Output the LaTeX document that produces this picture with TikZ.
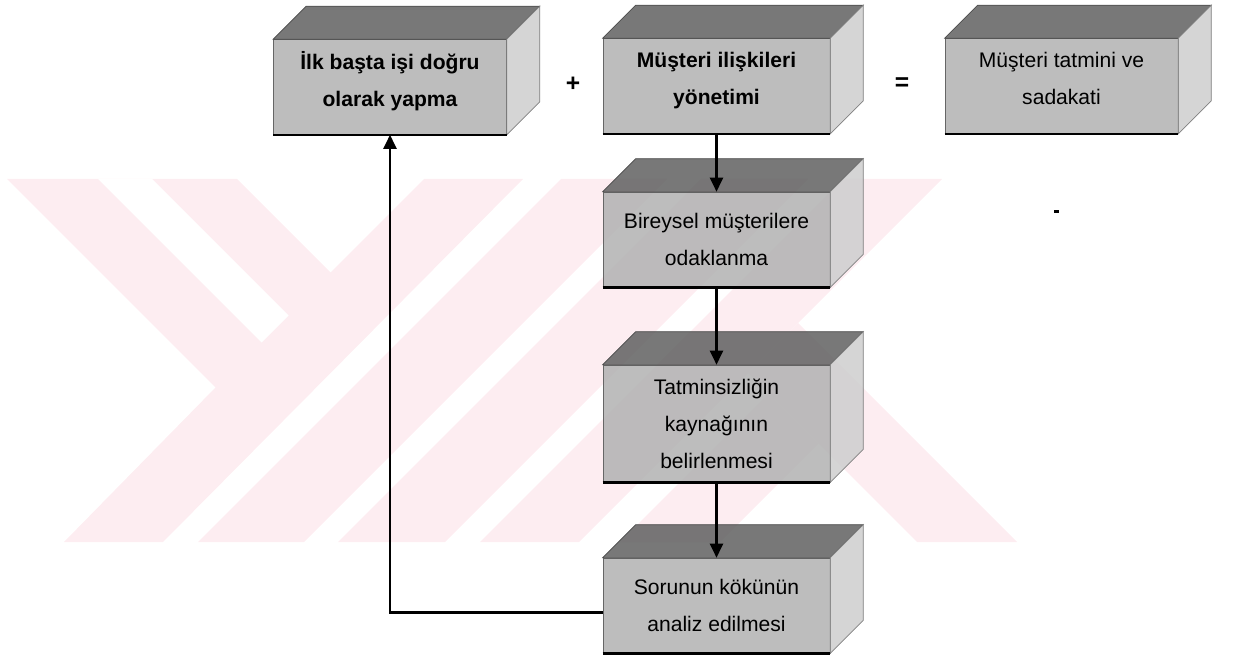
\documentclass[tikz,border=0pt]{standalone}
\usepackage{fontspec}
\setmainfont{Liberation Sans}
\usetikzlibrary{arrows.meta}

\definecolor{yokpink}{RGB}{253,237,241}
\definecolor{frontgray}{RGB}{180,180,180}
\definecolor{topgray}{RGB}{105,105,105}
\definecolor{sidegray}{RGB}{208,208,208}

\begin{document}
\begin{tikzpicture}[
    x = 0.02cm,
    y = -0.02cm,
    >={Triangle[length=8pt, width=7.5pt]},
    face/.style = {rectangle, draw=black!60, fill=frontgray, fill opacity=0.88,
              text opacity=1, minimum width=4.54cm, minimum height=1.9cm,
              inner sep=0pt, align=center, font=\fontsize{12}{21}\selectfont},
    strong/.style = {font=\fontsize{12}{21}\selectfont\bfseries},
    raised/.style = {text depth=0.32cm},
    tall/.style = {minimum height=2.34cm},
    wide/.style = {minimum width=4.66cm},
    flow/.style = {->, line width=1.25pt},
    ]

\useasboundingbox (0,0) rectangle (1238,662);

% background emblem
\fill[yokpink] (7,179) -- (215.5,387.5) -- (64,542) -- (163,542) -- (523,179)
    -- (424,179) -- (330.5,272.5) -- (237,179) -- cycle;
\fill[white] (98,179) -- (152,179) -- (288.5,315.5) -- (261.5,342.5) -- cycle;
\fill[yokpink] (561,179) -- (667,179) -- (304,542) -- (198,542) -- cycle;
\fill[yokpink] (701,179) -- (808,179) -- (445,542) -- (338,542) -- cycle;
\fill[yokpink] (843,179) -- (942,179) -- (579,542) -- (480,542) -- cycle;
\fill[yokpink] (798,323) -- (1017,542) -- (917,542) -- (748,373) -- cycle;
\fill[yokpink] (768.5,393.5) -- (818.5,443.5) -- (720,542) -- (620,542) -- cycle;

% front faces
\node[face, wide, strong, raised] (ilk) at (390,87) {İlk başta işi doğru\\olarak yapma};
\node[face, strong, raised] (yonetim) at (716.5,86) {Müşteri ilişkileri\\yönetimi};
\node[face, wide, raised] (tatmin) at (1061.5,86) {Müşteri tatmini ve\\sadakati};
\node[face] (bireysel) at (716.5,239.5) {Bireysel müşterilere\\odaklanma};
\node[face, tall] (kaynak) at (716.5,423.5) {Tatminsizliğin\\kaynağının\\belirlenmesi};
\node[face] (sorun) at (716.5,605.5) {Sorunun kökünün\\analiz edilmesi};

% top and side of each block
\foreach \b in {ilk,yonetim,tatmin,bireysel,kaynak,sorun}{
  \filldraw[fill=topgray, fill opacity=0.9, draw=black!70]
      (\b.north west) -- ++(33,-33) -- ([shift={(33,-33)}]\b.north east)
      -- (\b.north east) -- cycle;
  \filldraw[fill=sidegray, fill opacity=0.9, draw=black!50]
      (\b.north east) -- ++(33,-33) -- ([shift={(33,-33)}]\b.south east)
      -- (\b.south east) -- cycle;
  \draw[line width=1.4pt] (\b.south west) -- (\b.south east);
}

\node[font=\fontsize{14}{14}\selectfont\bfseries] (arti) at (573,84) {+};
\node[font=\fontsize{14}{14}\selectfont\bfseries] (esit) at (902,84) {=};

\draw[flow] (yonetim) -- (bireysel);
\draw[flow] (bireysel) -- (kaynak);
\draw[flow] (kaynak) -- (sorun);
\draw[flow] ([yshift=-4pt]sorun.west) -| (ilk.south);

\fill (1054,210) rectangle (1059,213);

\end{tikzpicture}
\end{document}
